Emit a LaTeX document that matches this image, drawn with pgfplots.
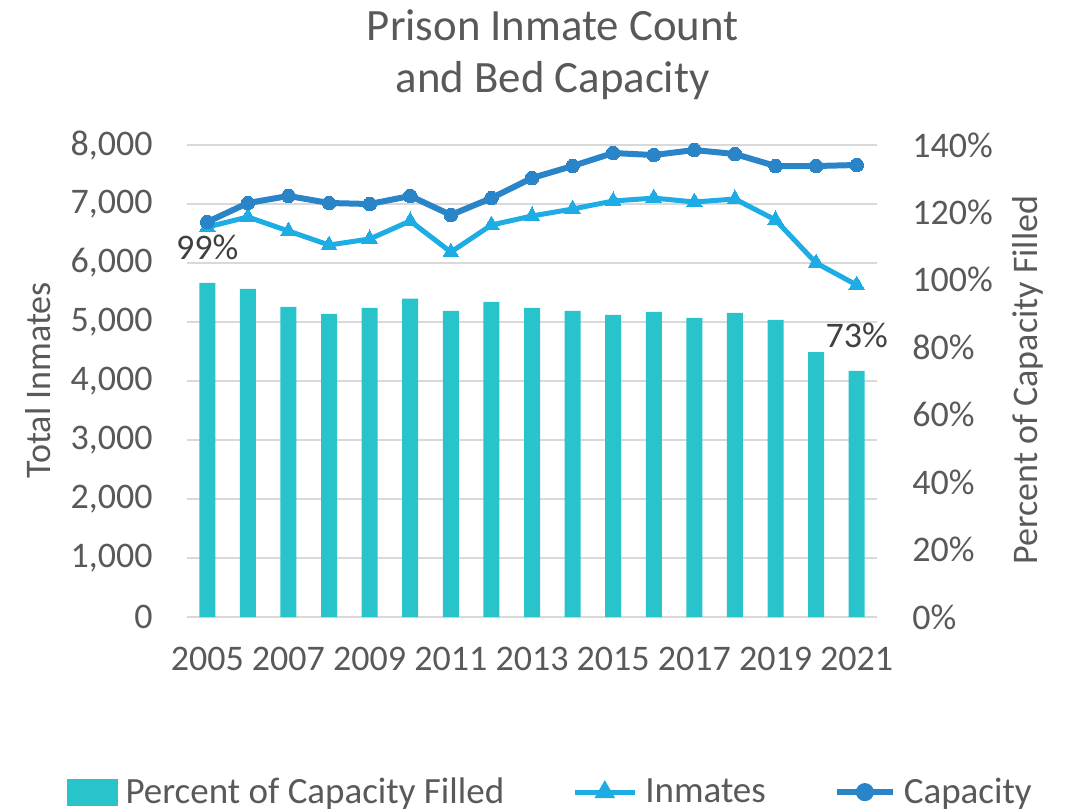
\documentclass[border=0pt]{standalone}
\usepackage{fontspec}
\setmainfont{Carlito}
\usepackage{pgfplots}
\pgfplotsset{compat=1.18}
\definecolor{barcol}{RGB}{41,196,203}
\definecolor{inmcol}{RGB}{30,172,228}
\definecolor{capcol}{RGB}{41,132,200}
\definecolor{gridcol}{RGB}{217,217,217}
\definecolor{txt}{RGB}{89,89,89}
\definecolor{dlab}{RGB}{64,64,64}
\definecolor{titlecol}{RGB}{89,89,89}
\begin{document}
\begin{tikzpicture}
\useasboundingbox (-93.5pt,-97pt) rectangle (439.5pt,308.5pt);
\pgfplotsset{
  base/.style={scale only axis, width=345pt, height=236pt, at={(0,0)}, anchor=south west,
    xmin=-0.5, xmax=16.5, axis line style={draw=none}, tick style={draw=none},
    /pgf/number format/assume math mode=true, scaled ticks=false,
    tick label style={font=\fontsize{18}{21.6}\selectfont, text=txt, inner sep=0pt},
    label style={font=\fontsize{18}{21.6}\selectfont, text=txt, inner sep=0pt}},
}
% axis 1: left scale, grid, x ticks, title
\begin{axis}[base, ymin=0, ymax=8000, ytick={0,1000,...,8000},
  yticklabel={\pgfmathprintnumber[fixed,precision=0,1000 sep={,}]{\tick}},
  ymajorgrids, grid style={gridcol, line width=1pt},
  xtick={0,2,...,16}, xticklabels={2005,2007,2009,2011,2013,2015,2017,2019,2021},
  yticklabel style={anchor=east, xshift=-17pt},
  xticklabel style={anchor=north, yshift=-15pt},
  ylabel={Total Inmates},
  ylabel style={at={(axis description cs:-0.216,0.502)}, anchor=center},
  title={Prison Inmate Count\\and Bed Capacity},
  title style={at={(axis description cs:0.53,1.165)}, anchor=center, align=center,
    font=\fontsize{22.4}{26}\selectfont, text=titlecol},
]
\addplot[draw=none] coordinates {(0,0)};
\end{axis}
% axis 2: right scale, bars
\begin{axis}[base, ymin=0, ymax=140, ytick={0,20,...,140},
  yticklabel pos=right, xtick=\empty,
  yticklabel={\pgfmathprintnumber{\tick}\%},
  yticklabel style={anchor=west, xshift=17.5pt},
  ylabel={Percent of Capacity Filled},
  ylabel style={at={(axis description cs:1.219,0.502)}, anchor=center, rotate=0},
  ybar, bar width=8pt,
  point meta=explicit symbolic,
  nodes near coords={\pgfplotspointmeta},
  every node near coord/.append style={font=\fontsize{18}{21.6}\selectfont, text=dlab, anchor=south, inner sep=0pt, yshift=11.5pt},
]
\addplot[fill=barcol, draw=none] coordinates {
(0,99.1) [99\%]
(1,97.3) []
(2,92.0) []
(3,89.9) []
(4,91.7) []
(5,94.4) []
(6,90.8) []
(7,93.5) []
(8,91.7) []
(9,90.8) []
(10,89.6) []
(11,90.5) []
(12,88.7) []
(13,90.2) []
(14,88.1) []
(15,78.6) []
(16,73.0) [73\%]
};
\end{axis}
% axis 3: lines
\begin{axis}[base, ymin=0, ymax=8000, hide axis,
  legend style={at={(axis description cs:0.525,-0.371)}, anchor=center, draw=none, fill=none,
    font=\fontsize{18.5}{22}\selectfont, text=txt, legend columns=3,
    nodes={inner sep=0pt},
    /tikz/every odd column/.append style={column sep=4pt},
    /tikz/every even column/.append style={column sep=34pt}},
]
\addlegendimage{legend image code/.code={\fill[barcol] (0pt,-6.5pt) rectangle (25pt,6.5pt);}}
\addlegendentry{Percent of Capacity Filled}
\addplot[inmcol, line width=2.5pt, mark=triangle*, mark size=4.5pt, mark options={line width=0pt},
  legend image code/.code={\draw[inmcol, line width=2.5pt] (0pt,0pt) -- (30pt,0pt); \fill[inmcol] (15pt,0pt) +(90:3.5pt) -- +(210:3.5pt) -- +(330:3.5pt) -- cycle;}]
coordinates {
(0,6610) (1,6780) (2,6542) (3,6305) (4,6407) (5,6712) (6,6186) (7,6644) (8,6797)
(9,6915) (10,7051) (11,7100) (12,7034) (13,7085) (14,6729) (15,6000) (16,5627)
};
\addlegendentry{Inmates}
\addplot[capcol, line width=3pt, mark=*, mark size=3.4pt, mark options={line width=0pt},
  legend image code/.code={\draw[capcol, line width=3pt] (0pt,0pt) -- (28pt,0pt); \fill[capcol] (14pt,0pt) circle (3pt);}]
coordinates {
(0,6695) (1,7017) (2,7136) (3,7017) (4,7000) (5,7136) (6,6814) (7,7100) (8,7441)
(9,7644) (10,7864) (11,7830) (12,7915) (13,7847) (14,7644) (15,7644) (16,7661)
};
\addlegendentry{Capacity}
\end{axis}
\end{tikzpicture}
\end{document}
